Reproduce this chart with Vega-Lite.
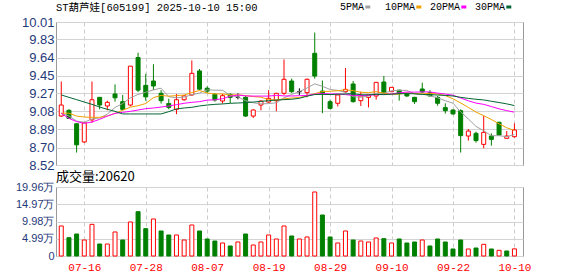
{
  "$schema": "https://vega.github.io/schema/vega-lite/v6.json",
  "background": "white",
  "padding": {"left": 14, "top": 2, "right": 0, "bottom": 0},
  "spacing": -3,
  "config": {
    "view": {"stroke": "#999999", "strokeWidth": 1},
    "font": "Liberation Sans",
    "axis": {"ticks": false, "domain": false, "title": null, "labelOverlap": false},
    "axisY": {"labelOverlap": false},
    "axisQuantitative": {"labelOverlap": false}
  },
  "data": {"values": [
    {"d":"07-11","o":9.03,"h":9.39,"l":9.02,"c":9.145,"v":86790,"vd":"up","m5":9.058,"m10":9.06,"m20":9.058,"m30":9.25},
    {"d":"07-14","o":9.09,"h":9.10,"l":9.00,"c":9.006,"v":53040,"vd":"down","m5":9.031,"m10":9.06,"m20":9.006,"m30":9.225},
    {"d":"07-15","o":8.95,"h":8.95,"l":8.65,"c":8.73,"v":63640,"vd":"down","m5":8.978,"m10":9.03,"m20":8.972,"m30":9.201},
    {"d":"07-16","o":8.76,"h":8.96,"l":8.75,"c":8.96,"v":46290,"vd":"up","m5":8.965,"m10":9.02,"m20":8.954,"m30":9.176},
    {"d":"07-17","o":8.99,"h":9.39,"l":8.96,"c":9.20,"v":91610,"vd":"up","m5":9.0,"m10":9.017,"m20":8.968,"m30":9.152},
    {"d":"07-18","o":9.225,"h":9.225,"l":9.10,"c":9.145,"v":34710,"vd":"down","m5":9.01,"m10":9.017,"m20":8.996,"m30":9.124},
    {"d":"07-21","o":9.135,"h":9.19,"l":9.09,"c":9.173,"v":34710,"vd":"up","m5":9.05,"m10":9.03,"m20":9.03,"m30":9.10},
    {"d":"07-22","o":9.26,"h":9.36,"l":9.18,"c":9.22,"v":69430,"vd":"up","m5":9.12,"m10":9.058,"m20":9.058,"m30":9.079},
    {"d":"07-23","o":9.18,"h":9.25,"l":9.09,"c":9.10,"v":46290,"vd":"down","m5":9.16,"m10":9.09,"m20":9.069,"m30":9.052},
    {"d":"07-24","o":9.145,"h":9.55,"l":9.13,"c":9.55,"v":98360,"vd":"up","m5":9.22,"m10":9.123,"m20":9.079,"m30":9.052},
    {"d":"07-25","o":9.64,"h":9.69,"l":9.28,"c":9.30,"v":128250,"vd":"down","m5":9.255,"m10":9.138,"m20":9.093,"m30":9.052},
    {"d":"07-28","o":9.35,"h":9.47,"l":9.19,"c":9.23,"v":79070,"vd":"down","m5":9.278,"m10":9.161,"m20":9.107,"m30":9.052},
    {"d":"07-29","o":9.395,"h":9.57,"l":9.30,"c":9.343,"v":107040,"vd":"up","m5":9.303,"m10":9.222,"m20":9.114,"m30":9.052},
    {"d":"07-30","o":9.267,"h":9.30,"l":9.16,"c":9.19,"v":72320,"vd":"down","m5":9.32,"m10":9.245,"m20":9.124,"m30":9.052},
    {"d":"07-31","o":9.16,"h":9.21,"l":9.10,"c":9.12,"v":60750,"vd":"down","m5":9.232,"m10":9.237,"m20":9.135,"m30":9.076},
    {"d":"08-01","o":9.10,"h":9.26,"l":9.05,"c":9.20,"v":60750,"vd":"up","m5":9.22,"m10":9.243,"m20":9.149,"m30":9.104},
    {"d":"08-04","o":9.20,"h":9.25,"l":9.19,"c":9.24,"v":46290,"vd":"up","m5":9.228,"m10":9.249,"m20":9.163,"m30":9.114},
    {"d":"08-05","o":9.25,"h":9.61,"l":9.24,"c":9.475,"v":89680,"vd":"up","m5":9.252,"m10":9.275,"m20":9.173,"m30":9.121},
    {"d":"08-06","o":9.50,"h":9.52,"l":9.30,"c":9.31,"v":72320,"vd":"down","m5":9.27,"m10":9.296,"m20":9.18,"m30":9.135},
    {"d":"08-07","o":9.32,"h":9.34,"l":9.27,"c":9.29,"v":49180,"vd":"down","m5":9.303,"m10":9.27,"m20":9.196,"m30":9.145},
    {"d":"08-08","o":9.256,"h":9.27,"l":9.18,"c":9.197,"v":43390,"vd":"down","m5":9.30,"m10":9.26,"m20":9.199,"m30":9.152},
    {"d":"08-11","o":9.187,"h":9.26,"l":9.16,"c":9.242,"v":37610,"vd":"up","m5":9.298,"m10":9.261,"m20":9.211,"m30":9.156},
    {"d":"08-12","o":9.256,"h":9.267,"l":9.163,"c":9.225,"v":28930,"vd":"down","m5":9.247,"m10":9.249,"m20":9.236,"m30":9.163},
    {"d":"08-13","o":9.225,"h":9.267,"l":9.204,"c":9.225,"v":40500,"vd":"up","m5":9.228,"m10":9.252,"m20":9.249,"m30":9.166},
    {"d":"08-14","o":9.225,"h":9.24,"l":9.02,"c":9.03,"v":63640,"vd":"down","m5":9.19,"m10":9.243,"m20":9.24,"m30":9.17},
    {"d":"08-15","o":9.03,"h":9.10,"l":9.01,"c":9.093,"v":31820,"vd":"up","m5":9.168,"m10":9.233,"m20":9.238,"m30":9.176},
    {"d":"08-18","o":9.145,"h":9.19,"l":9.09,"c":9.187,"v":40500,"vd":"up","m5":9.157,"m10":9.227,"m20":9.238,"m30":9.183},
    {"d":"08-19","o":9.176,"h":9.30,"l":9.17,"c":9.215,"v":60750,"vd":"up","m5":9.16,"m10":9.201,"m20":9.238,"m30":9.19},
    {"d":"08-20","o":9.19,"h":9.27,"l":9.08,"c":9.267,"v":49180,"vd":"up","m5":9.168,"m10":9.197,"m20":9.246,"m30":9.197},
    {"d":"08-21","o":9.267,"h":9.62,"l":9.25,"c":9.413,"v":86790,"vd":"up","m5":9.22,"m10":9.209,"m20":9.24,"m30":9.201},
    {"d":"08-22","o":9.395,"h":9.42,"l":9.27,"c":9.284,"v":57860,"vd":"down","m5":9.255,"m10":9.218,"m20":9.239,"m30":9.205},
    {"d":"08-25","o":9.284,"h":9.319,"l":9.25,"c":9.284,"v":49180,"vd":"up","m5":9.285,"m10":9.222,"m20":9.242,"m30":9.215},
    {"d":"08-26","o":9.274,"h":9.42,"l":9.225,"c":9.413,"v":54970,"vd":"up","m5":9.322,"m10":9.241,"m20":9.245,"m30":9.237},
    {"d":"08-27","o":9.684,"h":9.90,"l":9.42,"c":9.447,"v":185150,"vd":"up","m5":9.366,"m10":9.263,"m20":9.258,"m30":9.254},
    {"d":"08-28","o":9.29,"h":9.40,"l":9.06,"c":9.26,"v":118610,"vd":"down","m5":9.34,"m10":9.286,"m20":9.265,"m30":9.256},
    {"d":"08-29","o":9.18,"h":9.20,"l":9.10,"c":9.11,"v":54970,"vd":"down","m5":9.307,"m10":9.288,"m20":9.26,"m30":9.254},
    {"d":"09-01","o":9.163,"h":9.25,"l":9.13,"c":9.25,"v":37610,"vd":"up","m5":9.297,"m10":9.294,"m20":9.261,"m30":9.257},
    {"d":"09-02","o":9.284,"h":9.53,"l":9.27,"c":9.308,"v":72320,"vd":"up","m5":9.278,"m10":9.304,"m20":9.253,"m30":9.26},
    {"d":"09-03","o":9.364,"h":9.395,"l":9.17,"c":9.18,"v":46290,"vd":"down","m5":9.232,"m10":9.295,"m20":9.246,"m30":9.263},
    {"d":"09-04","o":9.19,"h":9.284,"l":9.135,"c":9.239,"v":43390,"vd":"up","m5":9.225,"m10":9.278,"m20":9.243,"m30":9.252},
    {"d":"09-05","o":9.225,"h":9.25,"l":9.12,"c":9.25,"v":40500,"vd":"up","m5":9.24,"m10":9.274,"m20":9.246,"m30":9.251},
    {"d":"09-08","o":9.239,"h":9.385,"l":9.20,"c":9.381,"v":52070,"vd":"up","m5":9.267,"m10":9.284,"m20":9.253,"m30":9.256},
    {"d":"09-09","o":9.385,"h":9.447,"l":9.26,"c":9.267,"v":50140,"vd":"down","m5":9.268,"m10":9.269,"m20":9.255,"m30":9.253},
    {"d":"09-10","o":9.284,"h":9.33,"l":9.28,"c":9.329,"v":37610,"vd":"up","m5":9.293,"m10":9.257,"m20":9.26,"m30":9.258},
    {"d":"09-11","o":9.30,"h":9.30,"l":9.19,"c":9.267,"v":49180,"vd":"down","m5":9.299,"m10":9.258,"m20":9.272,"m30":9.263},
    {"d":"09-12","o":9.267,"h":9.27,"l":9.23,"c":9.239,"v":37610,"vd":"down","m5":9.297,"m10":9.271,"m20":9.28,"m30":9.264},
    {"d":"09-15","o":9.225,"h":9.23,"l":9.156,"c":9.18,"v":40500,"vd":"down","m5":9.26,"m10":9.264,"m20":9.279,"m30":9.262},
    {"d":"09-16","o":9.312,"h":9.378,"l":9.27,"c":9.281,"v":46290,"vd":"up","m5":9.259,"m10":9.261,"m20":9.282,"m30":9.255},
    {"d":"09-17","o":9.274,"h":9.30,"l":9.235,"c":9.239,"v":28930,"vd":"down","m5":9.241,"m10":9.267,"m20":9.281,"m30":9.253},
    {"d":"09-18","o":9.225,"h":9.24,"l":9.138,"c":9.163,"v":49180,"vd":"down","m5":9.22,"m10":9.26,"m20":9.269,"m30":9.249},
    {"d":"09-19","o":9.118,"h":9.163,"l":9.055,"c":9.086,"v":40500,"vd":"down","m5":9.19,"m10":9.243,"m20":9.259,"m30":9.245},
    {"d":"09-22","o":9.093,"h":9.10,"l":9.045,"c":9.052,"v":20250,"vd":"down","m5":9.164,"m10":9.21,"m20":9.247,"m30":9.239},
    {"d":"09-23","o":9.086,"h":9.10,"l":8.65,"c":8.826,"v":46290,"vd":"down","m5":9.073,"m10":9.166,"m20":9.218,"m30":9.225},
    {"d":"09-24","o":8.822,"h":8.895,"l":8.774,"c":8.874,"v":20250,"vd":"up","m5":9.0,"m10":9.121,"m20":9.189,"m30":9.214},
    {"d":"09-25","o":8.85,"h":8.867,"l":8.753,"c":8.774,"v":23140,"vd":"down","m5":8.922,"m10":9.071,"m20":9.165,"m30":9.205},
    {"d":"09-26","o":8.735,"h":9.03,"l":8.694,"c":8.86,"v":33750,"vd":"up","m5":8.877,"m10":9.034,"m20":9.152,"m30":9.198},
    {"d":"09-29","o":8.822,"h":8.85,"l":8.722,"c":8.787,"v":20250,"vd":"down","m5":8.824,"m10":8.994,"m20":9.129,"m30":9.184},
    {"d":"09-30","o":8.965,"h":8.97,"l":8.826,"c":8.833,"v":16390,"vd":"up","m5":8.826,"m10":8.949,"m20":9.105,"m30":9.171},
    {"d":"10-09","o":8.798,"h":8.874,"l":8.798,"c":8.822,"v":14460,"vd":"down","m5":8.815,"m10":8.908,"m20":9.087,"m30":9.157},
    {"d":"10-10","o":8.815,"h":8.954,"l":8.805,"c":8.885,"v":20620,"vd":"up","m5":8.837,"m10":8.88,"m20":9.07,"m30":9.139}
  ]},
  "vconcat": [
    {
      "width": 467,
      "height": 143,
      "title": {"text": "ST葫芦娃[605199] 2025-10-10 15:00", "anchor": "start", "frame": "group", "font": "Liberation Mono, Noto Sans CJK SC", "fontSize": 10.5, "fontWeight": "normal", "color": "#000000", "offset": 3},
      "encoding": {
        "x": {"field": "d", "type": "ordinal", "sort": null,
          "scale": {"type": "point", "padding": 0.9, "align": 0.38},
          "axis": {"values": ["07-16","07-28","08-07","08-19","08-29","09-10","09-22","10-10"], "labels": false, "minExtent": 0, "maxExtent": 0, "labelPadding": 0, "grid": true, "gridDash": [4,3], "gridColor": "#cccccc"}}
      },
      "layer": [
        {
          "mark": {"type": "rule", "strokeWidth": 1},
          "encoding": {
            "y": {"field": "l", "type": "quantitative", "scale": {"domain": [8.52, 10.01], "nice": false, "zero": false},
              "axis": {"values": [8.52, 8.70, 8.89, 9.08, 9.27, 9.45, 9.64, 9.83, 10.01], "format": ".2f", "labelOverlap": false, "labelFlush": false, "grid": true, "gridColor": "#d3d3d3", "labelColor": "#1f3a78", "labelFontSize": 13, "labelPadding": 2}},
            "y2": {"field": "h"},
            "stroke": {"condition": [{"test": "datum.c > datum.o", "value": "#ff0000"}, {"test": "datum.c == datum.o", "value": "#000000"}], "value": "#008000"}
          }
        },
        {
          "mark": {"type": "bar", "width": 4, "strokeWidth": 1},
          "encoding": {
            "y": {"field": "o", "type": "quantitative",
              "axis": {"values": [8.52, 8.70, 8.89, 9.08, 9.27, 9.45, 9.64, 9.83, 10.01], "format": ".2f", "labelOverlap": false, "labelFlush": false, "grid": true, "gridColor": "#d3d3d3", "labelColor": "#1f3a78", "labelFontSize": 13, "labelPadding": 2}},
            "y2": {"field": "c"},
            "fill": {"condition": [{"test": "datum.c > datum.o", "value": "#ffffff"}, {"test": "datum.c == datum.o", "value": "#000000"}], "value": "#008000"},
            "stroke": {"condition": [{"test": "datum.c > datum.o", "value": "#ff0000"}, {"test": "datum.c == datum.o", "value": "#000000"}], "value": "#008000"}
          }
        },
        {
          "transform": [{"fold": ["m5", "m10", "m20", "m30"], "as": ["ma", "mv"]}],
          "mark": {"type": "line", "strokeWidth": 1},
          "encoding": {
            "y": {"field": "mv", "type": "quantitative",
              "axis": {"values": [8.52, 8.70, 8.89, 9.08, 9.27, 9.45, 9.64, 9.83, 10.01], "format": ".2f", "labelOverlap": false, "labelFlush": false, "grid": true, "gridColor": "#d3d3d3", "labelColor": "#1f3a78", "labelFontSize": 13, "labelPadding": 2}},
            "color": {"field": "ma", "type": "nominal",
              "scale": {"domain": ["m5", "m10", "m20", "m30"], "range": ["#a0a0a0", "#f0a000", "#ff00ff", "#006633"]},
              "legend": {"orient": "none", "legendX": 282, "legendY": -20, "direction": "horizontal", "title": null,
                "columns": 4, "gridAlign": "all",
                "labelFont": "Liberation Mono", "labelFontSize": 10, "labelColor": "#000000",
                "labelExpr": "replace(datum.label, 'm', '') + 'PMA'",
                "symbolType": "stroke", "symbolSize": 25, "symbolStrokeWidth": 3,
                "labelAlign": "left", "labelOffset": -8, "symbolOffset": 0, "columnPadding": -1,
                "encode": {"symbols": {"update": {"x": {"signal": "datum.value == 'm5' ? 29.8 : 35.8"}}}}}}
          }
        }
      ]
    },
    {
      "width": 467,
      "height": 69,
      "title": {"text": "成交量:20620", "anchor": "start", "frame": "group", "font": "Noto Sans CJK SC", "fontSize": 13, "fontWeight": "normal", "color": "#000000", "offset": -3},
      "mark": {"type": "bar", "width": 4, "strokeWidth": 1},
      "encoding": {
        "x": {"field": "d", "type": "ordinal", "sort": null,
          "scale": {"type": "point", "padding": 0.9, "align": 0.38},
          "axis": {"values": ["07-16","07-28","08-07","08-19","08-29","09-10","09-22","10-10"], "labelAngle": 0, "labelColor": "#ff0000", "labelFont": "Liberation Mono", "labelFontSize": 11, "labelPadding": 5, "grid": true, "gridDash": [4,3], "gridColor": "#cccccc"}},
        "y": {"field": "v", "type": "quantitative", "scale": {"domain": [0, 199600], "nice": false},
          "axis": {"values": [0, 49900, 99800, 149700, 199600], "labelOverlap": false, "labelFlush": false, "labelExpr": "datum.value == 0 ? '0' : format(datum.value / 10000, '.2f') + '万'", "grid": true, "gridColor": "#d3d3d3", "labelColor": "#1f3a78", "labelFontSize": 11, "labelPadding": 2}},
        "fill": {"condition": {"test": "datum.vd == 'up'", "value": "#ffffff"}, "value": "#008000"},
        "stroke": {"condition": {"test": "datum.vd == 'up'", "value": "#ff0000"}, "value": "#008000"}
      }
    }
  ]
}
